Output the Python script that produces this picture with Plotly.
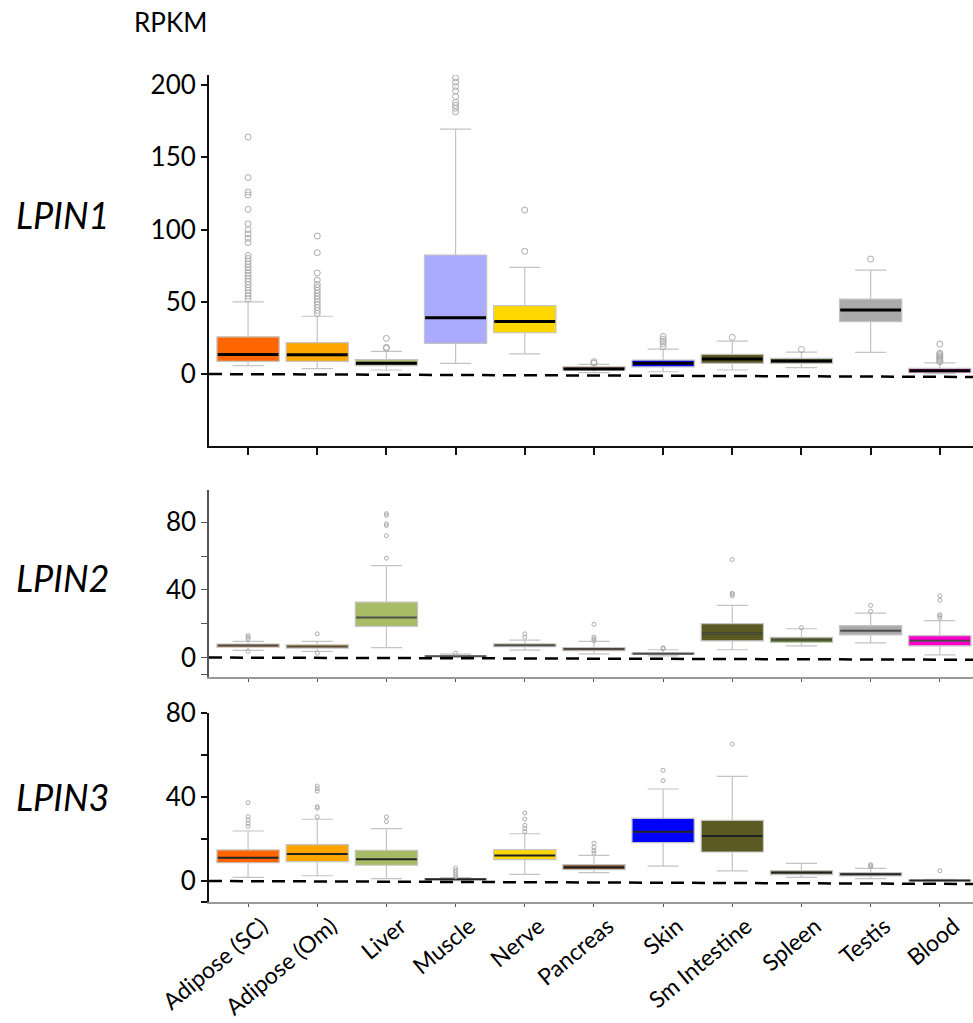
import plotly.graph_objects as go

# ---------------- data ----------------
cats = ["Adipose (SC)", "Adipose (Om)", "Liver", "Muscle", "Nerve", "Pancreas",
        "Skin", "Sm Intestine", "Spleen", "Testis", "Blood"]
colors = ["#FF6600", "#FFA500", "#A8BC66", "#AAAAFF", "#FFD700", "#8B4A1C",
          "#0000FF", "#5A5A22", "#6E8A3C", "#AAAAAA", "#FF00CC"]

# LPIN1
lpin1_q1 = [8.8, 8.8, 5.8, 21.2, 28.6, 2.8, 5.0, 7.4, 7.4, 36.2, 0.9]
lpin1_med = [13.6, 13.4, 7.4, 39.0, 36.4, 3.5, 7.4, 10.4, 9.0, 44.3, 2.3]
lpin1_q3 = [25.8, 21.7, 10.0, 82.4, 47.3, 5.0, 9.7, 13.6, 10.8, 51.9, 3.9]
lpin1_lo = [5.8, 3.7, 2.8, 7.4, 14.0, 1.0, 1.6, 2.8, 4.4, 15.0, 0.3]
lpin1_hi = [50.0, 40.0, 15.7, 169.5, 73.8, 6.7, 17.3, 22.8, 15.2, 72.0, 7.8]
lpin1_out = [
    [52, 54, 56, 58, 60, 62, 64, 66, 68, 70, 72, 74, 76, 78, 80, 82, 91, 94, 97, 100, 104, 114, 124, 126, 136, 164],
    [42, 44, 46, 48, 50, 52, 54, 56, 58, 60, 62, 65, 70, 84, 95.5],
    [17.8, 18.5, 24.7],
    [181.5, 184, 186, 188, 192, 196, 199, 202, 205],
    [85, 113.5],
    [7.5, 8.5],
    [19, 21, 22.5, 24, 26],
    [25.4],
    [17],
    [79.6],
    [8.5, 9.5, 10.5, 11.5, 12.5, 13.5, 14.5, 20.7],
]

# LPIN2
lpin2_q1 = [6.2, 5.6, 18.4, 0.6, 6.5, 4.0, 1.8, 9.9, 8.9, 13.4, 6.9]
lpin2_med = [7.1, 6.5, 23.7, 0.8, 7.3, 5.0, 2.2, 14.2, 10.5, 15.8, 9.9]
lpin2_q3 = [7.9, 7.5, 32.8, 1.0, 8.1, 5.9, 2.8, 20.0, 12.0, 18.8, 12.9]
lpin2_lo = [4.2, 3.6, 5.9, 0.2, 4.4, 2.2, 1.0, 4.6, 6.9, 8.7, 1.6]
lpin2_hi = [9.5, 9.5, 54.3, 2.0, 10.3, 9.5, 4.6, 30.8, 17.0, 26.3, 21.8]
lpin2_out = [
    [11, 12, 13, 3.6],
    [14, 2.6],
    [58.7, 72, 78, 79, 84, 85],
    [2.6],
    [12, 14],
    [10, 11, 12, 19.6],
    [5.2, 5.8],
    [36.5, 37.5, 38, 57.9],
    [17.6],
    [27.3, 30.8],
    [23.4, 24.5, 25.3, 33.8, 36.5],
]

# LPIN3
lpin3_q1 = [8.7, 9.2, 7.5, 0.5, 10.2, 5.4, 18.3, 13.8, 3.0, 2.4, 0.0]
lpin3_med = [11.1, 12.9, 10.3, 0.8, 12.2, 6.5, 23.5, 21.4, 4.1, 3.2, 0.2]
lpin3_q3 = [14.8, 17.3, 14.6, 1.1, 14.9, 7.8, 29.8, 28.9, 4.9, 4.0, 0.4]
lpin3_lo = [1.7, 2.5, 1.1, 0.2, 3.2, 4.0, 7.1, 4.8, 1.7, 1.1, 0.0]
lpin3_hi = [23.8, 29.4, 24.9, 1.6, 22.5, 12.2, 43.8, 49.8, 8.4, 6.0, 0.8]
lpin3_out = [
    [26, 27.5, 29, 30.6, 37.3],
    [30.6, 34.6, 35.4, 42.8, 44, 45.2],
    [28.3, 30.5],
    [2, 3, 4, 5, 6.2],
    [23.5, 25, 26.5, 29.5, 32.4],
    [13.3, 14.5, 16, 18],
    [47.8, 52.7],
    [65.2],
    [],
    [6.8, 7.3, 7.8],
    [4.9],
]

panels = [
    dict(q1=lpin1_q1, med=lpin1_med, q3=lpin1_q3, lo=lpin1_lo, hi=lpin1_hi, out=lpin1_out,
         xa="x", ya="y", medcol="#000000", medw=3, msize=6),
    dict(q1=lpin2_q1, med=lpin2_med, q3=lpin2_q3, lo=lpin2_lo, hi=lpin2_hi, out=lpin2_out,
         xa="x2", ya="y2", medcol="rgba(40,40,40,0.75)", medw=2, msize=4),
    dict(q1=lpin3_q1, med=lpin3_med, q3=lpin3_q3, lo=lpin3_lo, hi=lpin3_hi, out=lpin3_out,
         xa="x3", ya="y3", medcol="#222222", medw=2, msize=4),
]

FONT = "Lato, 'Open Sans', sans-serif"
fig = go.Figure()

for p in panels:
    for i, c in enumerate(cats):
        fig.add_trace(go.Box(
            x=[c], q1=[p["q1"][i]], median=[p["med"][i]], q3=[p["q3"][i]],
            lowerfence=[p["lo"][i]], upperfence=[p["hi"][i]],
            fillcolor=colors[i], line=dict(color="#c4c4c4", width=1.2),
            width=0.9, whiskerwidth=0.5, boxpoints=False,
            xaxis=p["xa"], yaxis=p["ya"], showlegend=False, hoverinfo="skip"))
        # median line drawn as degenerate box
        fig.add_trace(go.Box(
            x=[c], q1=[p["med"][i]], median=[p["med"][i]], q3=[p["med"][i]],
            lowerfence=[p["med"][i]], upperfence=[p["med"][i]],
            fillcolor="rgba(0,0,0,0)", line=dict(color=p["medcol"], width=p["medw"]),
            width=0.88, whiskerwidth=0, boxpoints=False,
            xaxis=p["xa"], yaxis=p["ya"], showlegend=False, hoverinfo="skip"))
        if p["out"][i]:
            fig.add_trace(go.Scatter(
                x=[c] * len(p["out"][i]), y=p["out"][i], mode="markers",
                marker=dict(symbol="circle-open", size=p["msize"], color="#ababab",
                            line=dict(width=1)),
                xaxis=p["xa"], yaxis=p["ya"], showlegend=False, hoverinfo="skip"))

xdom = [209 / 973, 1.0]
xrange = [-0.565, 10.48]


def ydom(top_px, bot_px):
    return [1 - bot_px / 1023, 1 - top_px / 1023]


common_x = dict(domain=xdom, range=xrange, type="category",
                categoryorder="array", categoryarray=cats, automargin=False,
                showline=True, ticks="outside", showgrid=False, zeroline=False)

fig.update_layout(
    width=973, height=1023,
    margin=dict(l=0, r=0, t=0, b=0, autoexpand=False),
    paper_bgcolor="white", plot_bgcolor="white",
    boxmode="overlay",
    font=dict(family=FONT, size=26, color="black"),
    xaxis=dict(**common_x, anchor="y", showticklabels=False,
               linecolor="#111", linewidth=2, ticklen=7, tickcolor="#111", tickwidth=1.5),
    xaxis2=dict(**common_x, anchor="y2", showticklabels=False,
                linecolor="#9a9a9a", linewidth=2, ticklen=3, tickcolor="#555", tickwidth=1),
    xaxis3=dict(**common_x, anchor="y3", showticklabels=True, tickangle=-40,
                ticklabelshift=14, ticklabelstandoff=-3,
                tickfont=dict(family=FONT, size=23, color="black"),
                linecolor="#9a9a9a", linewidth=2, ticklen=3, tickcolor="#555", tickwidth=1),
    yaxis=dict(domain=ydom(75, 446), range=[-49.8, 207], anchor="x", automargin=False,
               tickvals=[0, 50, 100, 150, 200], showline=True, linecolor="#111", linewidth=2,
               ticks="outside", ticklen=6, tickwidth=1.5, tickcolor="#111",
               showgrid=False, zeroline=False, tickfont=dict(size=26)),
    yaxis2=dict(domain=ydom(490, 677), range=[-11.5, 99], anchor="x2", automargin=False,
                tickvals=[0, 40, 80], showline=True, linecolor="#555", linewidth=1.5,
                ticks="outside", ticklen=6, tickwidth=1, tickcolor="#555",
                minor=dict(tickvals=[-10, 20, 60], ticks="outside", ticklen=6, tickcolor="#555"),
                showgrid=False, zeroline=False, tickfont=dict(size=26)),
    yaxis3=dict(domain=ydom(713, 902), range=[-10, 80], anchor="x3", automargin=False,
                tickvals=[0, 40, 80], showline=True, linecolor="#111", linewidth=2,
                ticks="outside", ticklen=6, tickwidth=1.5, tickcolor="#111",
                minor=dict(tickvals=[-10, 20, 60], ticks="outside", ticklen=6, tickcolor="#111"),
                showgrid=False, zeroline=False, tickfont=dict(size=26)),
)

# dashed zero reference lines
for xr, yr, yend in [("x domain", "y", -2.0), ("x2 domain", "y2", -1.3), ("x3 domain", "y3", -1.4)]:
    fig.add_shape(type="line", xref=xr, yref=yr, x0=0, x1=1, y0=0, y1=yend,
                  line=dict(color="black", width=2.5, dash="13px,8px"))

# labels
fig.add_annotation(text="RPKM", xref="paper", yref="paper", x=170 / 973, y=1 - 22 / 1023,
                   showarrow=False, font=dict(size=26, family=FONT), xanchor="center", yanchor="middle")
for name, ypx in [("LPIN1", 215), ("LPIN2", 578), ("LPIN3", 797)]:
    fig.add_annotation(text="<i>" + name + "</i>", xref="paper", yref="paper",
                       x=14 / 973, y=1 - ypx / 1023, showarrow=False,
                       font=dict(size=36, family=FONT), xanchor="left", yanchor="middle")

fig.write_html("out.html", config={"displayModeBar": False},
               post_script="document.body.style.margin='0';document.body.style.padding='0';")
